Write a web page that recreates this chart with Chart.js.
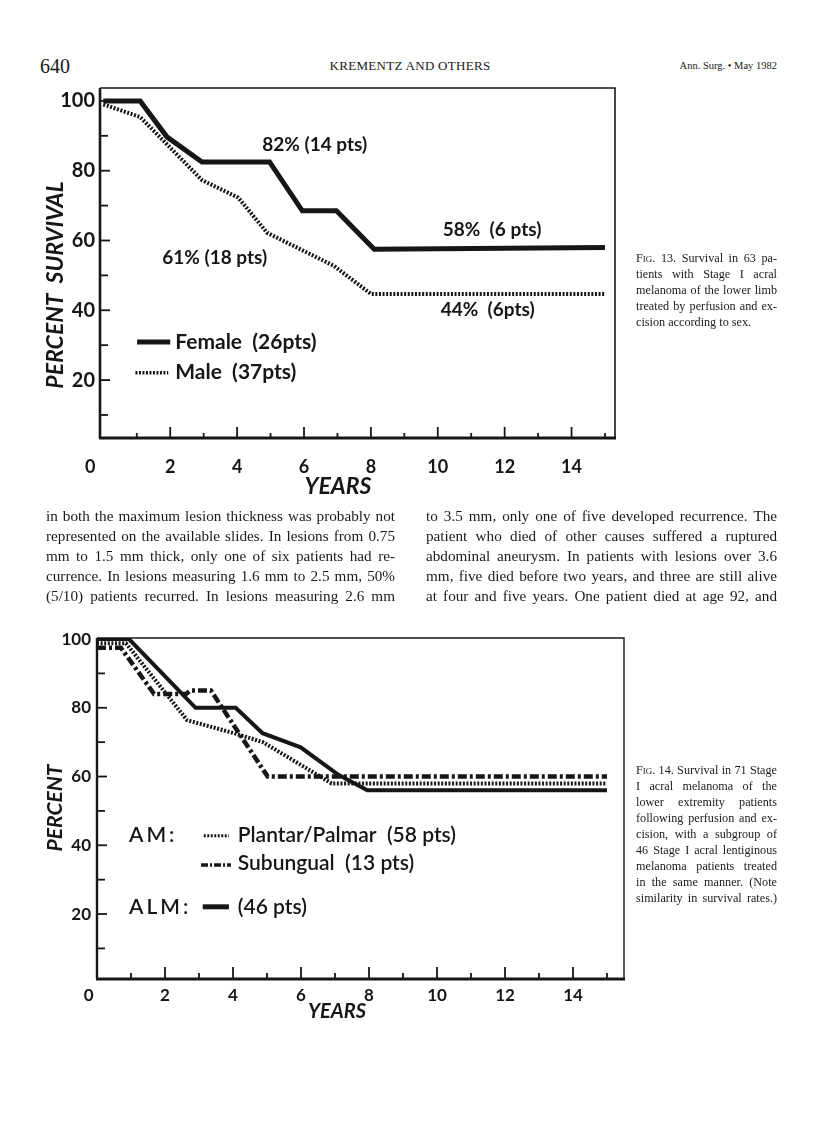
<!DOCTYPE html>
<html><head><meta charset="utf-8">
<script src="https://cdn.jsdelivr.net/npm/chart.js@4.4.1/dist/chart.umd.min.js"></script>
<style>
html,body{margin:0;padding:0;background:#fff}
body{width:816px;height:1138px;position:relative;overflow:hidden;font-family:'Liberation Serif','Times New Roman',serif;color:#1a1a1a}
.abs{position:absolute;white-space:nowrap}
canvas{position:absolute;left:0}
.col{position:absolute;font-size:15.2px}
.col div{height:20px;line-height:20px;text-align:justify;text-align-last:justify;white-space:nowrap}
.cap{position:absolute;left:636px;width:141px;font-size:12.2px}
.cap div{height:16px;line-height:16px;text-align:justify;text-align-last:justify;white-space:nowrap}
.sc{font-variant:small-caps}
</style></head>
<body>
<div class="abs" style="left:40px;top:54px;font-size:20px;line-height:24px">640</div>
<div class="abs" style="left:325px;width:170px;text-align:center;top:58px;font-size:13px;line-height:16px;letter-spacing:0.3px">KREMENTZ AND OTHERS</div>
<div class="abs" style="left:660px;width:117px;text-align:right;top:59px;font-size:10.5px;line-height:14px">Ann. Surg. • May 1982</div>

<canvas id="c1" width="640" height="450" style="top:60px"></canvas>

<div class="cap" style="top:250px">
<div><span class="sc">Fig</span>. 13. Survival in 63 pa-</div>
<div>tients with Stage I acral</div>
<div>melanoma of the lower limb</div>
<div>treated by perfusion and ex-</div>
<div style="text-align-last:left">cision according to sex.</div>
</div>

<div class="col" style="left:46px;width:349px;top:506px">
<div>in both the maximum lesion thickness was probably not</div>
<div>represented on the available slides. In lesions from 0.75</div>
<div>mm to 1.5 mm thick, only one of six patients had re-</div>
<div>currence. In lesions measuring 1.6 mm to 2.5 mm, 50%</div>
<div>(5/10) patients recurred. In lesions measuring 2.6 mm</div>
</div>
<div class="col" style="left:426px;width:351px;top:506px">
<div>to 3.5 mm, only one of five developed recurrence. The</div>
<div>patient who died of other causes suffered a ruptured</div>
<div>abdominal aneurysm. In patients with lesions over 3.6</div>
<div>mm, five died before two years, and three are still alive</div>
<div>at four and five years. One patient died at age 92, and</div>
</div>

<canvas id="c2" width="640" height="440" style="top:600px"></canvas>

<div class="cap" style="top:762px">
<div><span class="sc">Fig</span>. 14. Survival in 71 Stage</div>
<div>I acral melanoma of the</div>
<div>lower extremity patients</div>
<div>following perfusion and ex-</div>
<div>cision, with a subgroup of</div>
<div>46 Stage I acral lentiginous</div>
<div>melanoma patients treated</div>
<div>in the same manner. (Note</div>
<div>similarity in survival rates.)</div>
</div>

<script>
// ---------- Fig. 13 data ----------
const femaleYears    = [0, 1.1, 1.9, 2.95, 4.97, 5.95, 6.97, 8.1, 15.0];
const femaleSurvival = [100, 100, 89.7, 82.5, 82.5, 68.5, 68.5, 57.5, 58];
const maleYears      = [0, 1.1, 2.95, 4.03, 4.9, 6.9, 8.0, 15.0];
const maleSurvival   = [99, 95.4, 77.3, 72.3, 62.2, 52.7, 44.7, 44.7];

// ---------- Fig. 14 data ----------
const almYears          = [0, 0.94, 2.9, 4.08, 4.87, 5.99, 7.1, 7.95, 15.0];
const almSurvival       = [100, 100, 80, 80, 72.6, 68.5, 60.5, 56, 56];
const plantarYears      = [0, 0.85, 2.65, 4.03, 4.88, 6.9, 15.0];
const plantarSurvival   = [98.8, 98.8, 76.4, 72.6, 70, 58, 58];
const subungualYears    = [0, 0.7, 1.68, 2.62, 2.75, 3.35, 5.02, 15.0];
const subungualSurvival = [97.5, 97.5, 84, 84, 85, 85, 60, 60];

// ---------- ticks ----------
const xTickLabels = [0, 2, 4, 6, 8, 10, 12, 14];
const yTickLabels = [20, 40, 60, 80, 100];
const xMinorTicks = [1, 3, 5, 7, 9, 11, 13, 15];
const yMinorTicks = [10, 30, 50, 70, 90];

const INK = '#161616';
const pts = (xs, ys) => xs.map((v, i) => ({x: v, y: ys[i]}));

function makeDecor(cfg) {
  return {
    id: 'decor',
    afterDraw(chart) {
      const {ctx, chartArea: a, scales: {x, y}} = chart;
      ctx.save();
      ctx.strokeStyle = INK; ctx.fillStyle = INK; ctx.lineCap = 'butt';
      ctx.lineWidth = cfg.thin;
      ctx.beginPath(); ctx.moveTo(a.left, a.top); ctx.lineTo(a.right, a.top); ctx.lineTo(a.right, a.bottom); ctx.stroke();
      ctx.lineWidth = cfg.leftW;
      ctx.beginPath(); ctx.moveTo(a.left, a.top); ctx.lineTo(a.left, a.bottom); ctx.stroke();
      ctx.lineWidth = cfg.bottomW;
      ctx.beginPath(); ctx.moveTo(a.left - 1, a.bottom); ctx.lineTo(a.right + 1, a.bottom); ctx.stroke();
      ctx.lineWidth = 1.8;
      const yt = [...yTickLabels.map(v => [v, cfg.yMajor]), ...yMinorTicks.map(v => [v, cfg.yMinor])];
      yt.forEach(([v, len]) => { const py = y.getPixelForValue(v); ctx.beginPath(); ctx.moveTo(a.left, py); ctx.lineTo(a.left + len, py); ctx.stroke(); });
      const xt = [...xTickLabels.filter(v => v > 0).map(v => [v, cfg.xMajor]), ...xMinorTicks.map(v => [v, cfg.xMinor])];
      xt.forEach(([v, len]) => { const px = x.getPixelForValue(v); ctx.beginPath(); ctx.moveTo(px, a.bottom); ctx.lineTo(px, a.bottom - len); ctx.stroke(); });
      cfg.samples.forEach(s => {
        ctx.lineWidth = s.w; ctx.setLineDash(s.dash || []);
        const py = y.getPixelForValue(s.y);
        ctx.beginPath(); ctx.moveTo(x.getPixelForValue(s.x1), py); ctx.lineTo(x.getPixelForValue(s.x2), py); ctx.stroke();
      });
      ctx.setLineDash([]);
      ctx.textBaseline = 'middle';
      cfg.texts.forEach(t => {
        ctx.font = t.font; ctx.textAlign = t.align || 'left';
        ctx.letterSpacing = t.ls || '0px';
        ctx.fillText(t.text, x.getPixelForValue(t.x), y.getPixelForValue(t.y));
      });
      ctx.letterSpacing = '0px';
      ctx.textAlign = 'center';
      ctx.font = cfg.yTitle.font;
      ctx.save(); ctx.translate(cfg.yTitle.px, cfg.yTitle.py); ctx.rotate(-Math.PI / 2);
      ctx.fillText(cfg.yTitle.text, 0, 0); ctx.restore();
      ctx.font = cfg.xTitle.font;
      ctx.fillText(cfg.xTitle.text, cfg.xTitle.px, cfg.xTitle.py);
      ctx.restore();
    }
  };
}

function makeChart(id, datasets, sc, decor) {
  return new Chart(document.getElementById(id), {
    type: 'line',
    data: {datasets},
    options: {
      responsive: false, animation: false, devicePixelRatio: 1,
      layout: {padding: sc.padding},
      plugins: {legend: {display: false}, tooltip: {enabled: false}},
      elements: {point: {radius: 0}, line: {tension: 0, borderJoinStyle: 'miter', borderCapStyle: 'butt'}},
      scales: {
        x: {
          type: 'linear', min: sc.xmin, max: sc.xmax,
          grid: {display: false, drawTicks: false}, border: {display: false},
          afterBuildTicks: s => { s.ticks = xTickLabels.map(v => ({value: v})); },
          afterFit: s => { s.height = sc.xh; },
          ticks: {autoSkip: false, maxRotation: 0, padding: sc.xpad, color: INK, font: sc.xfont,
                  callback: v => v === 0 ? '0' + sc.zeroPad : String(v)}
        },
        y: {
          type: 'linear', min: sc.ymin, max: sc.ymax,
          grid: {display: false, drawTicks: false}, border: {display: false},
          afterBuildTicks: s => { s.ticks = yTickLabels.map(v => ({value: v})); },
          afterFit: s => { s.width = sc.yw; },
          ticks: {autoSkip: false, padding: sc.ypad, color: INK, font: sc.yfont, callback: v => String(v)}
        }
      }
    },
    plugins: [makeDecor(decor)]
  });
}

Chart.defaults.font.family = 'Lato';
Chart.defaults.color = INK;

makeChart('c1', [
  {label: 'Female (26pts)', data: pts(femaleYears, femaleSurvival), borderColor: INK, borderWidth: 5, fill: false},
  {label: 'Male (37pts)', data: pts(maleYears, maleSurvival), borderColor: INK, borderWidth: 4, borderDash: [2, 1.6], fill: false}
], {
  padding: {top: 28, right: 25, left: 0, bottom: 0},
  xmin: -0.1, xmax: 15.3, ymin: 3.4, ymax: 103.7,
  xh: 72, yw: 100, xpad: 18, ypad: 5, zeroPad: '      ',
  xfont: {size: 18, weight: 'bold'}, yfont: {size: 20, weight: 'bold'}
}, {
  thin: 1.6, leftW: 2.6, bottomW: 3.2, yMajor: 10, yMinor: 8, xMajor: 11, xMinor: 5,
  samples: [
    {x1: 1.01, x2: 2.0, y: 30.9, w: 5},
    {x1: 0.96, x2: 1.94, y: 22.1, w: 3.5, dash: [2, 1.5]}
  ],
  texts: [
    {text: '82% (14 pts)', x: 4.75, y: 87.4, font: 'bold 19px Lato'},
    {text: '61% (18 pts)', x: 1.76, y: 55.0, font: 'bold 19px Lato'},
    {text: '58%  (6 pts)', x: 10.15, y: 63.0, font: 'bold 19px Lato'},
    {text: '44%  (6pts)', x: 10.09, y: 40.1, font: 'bold 19px Lato'},
    {text: 'Female  (26pts)', x: 2.15, y: 30.9, font: 'bold 21px Lato'},
    {text: 'Male  (37pts)', x: 2.15, y: 22.2, font: 'bold 21px Lato'}
  ],
  yTitle: {text: 'PERCENT  SURVIVAL', px: 56, py: 225, font: 'italic bold 23px Lato'},
  xTitle: {text: 'YEARS', px: 338, py: 427, font: 'italic bold 23px Lato'}
});

makeChart('c2', [
  {label: 'ALM (46 pts)', data: pts(almYears, almSurvival), borderColor: INK, borderWidth: 4, fill: false},
  {label: 'AM: Plantar/Palmar (58 pts)', data: pts(plantarYears, plantarSurvival), borderColor: INK, borderWidth: 4, borderDash: [2, 1.6], fill: false},
  {label: 'AM: Subungual (13 pts)', data: pts(subungualYears, subungualSurvival), borderColor: INK, borderWidth: 4.5, borderDash: [9, 3, 3, 3], fill: false}
], {
  padding: {top: 38, right: 16, left: 0, bottom: 0},
  xmin: 0, xmax: 15.5, ymin: 1.1, ymax: 100.3,
  xh: 61, yw: 97, xpad: 6, ypad: 6, zeroPad: '    ',
  xfont: {size: 17, weight: 'bold'}, yfont: {size: 17, weight: 'bold'}
}, {
  thin: 1.4, leftW: 2.4, bottomW: 3.2, yMajor: 10, yMinor: 8, xMajor: 12, xMinor: 6,
  samples: [
    {x1: 3.14, x2: 3.88, y: 42.8, w: 3, dash: [2, 1.5]},
    {x1: 3.06, x2: 3.94, y: 34.3, w: 3.5, dash: [7, 2, 2, 2]},
    {x1: 3.11, x2: 3.88, y: 22.1, w: 5}
  ],
  texts: [
    {text: 'AM:', x: 0.94, y: 42.8, font: '600 21px Lato', ls: '3px'},
    {text: 'Plantar/Palmar  (58 pts)', x: 4.14, y: 42.8, font: '600 21px Lato'},
    {text: 'Subungual  (13 pts)', x: 4.14, y: 34.9, font: '600 21px Lato'},
    {text: 'ALM:', x: 0.94, y: 22.1, font: '600 21px Lato', ls: '3px'},
    {text: '(46 pts)', x: 4.14, y: 22.1, font: '600 21px Lato'}
  ],
  yTitle: {text: 'PERCENT', px: 55, py: 208, font: 'italic bold 21px Lato'},
  xTitle: {text: 'YEARS', px: 337, py: 412, font: 'italic bold 20px Lato'}
});
</script>
</body></html>
